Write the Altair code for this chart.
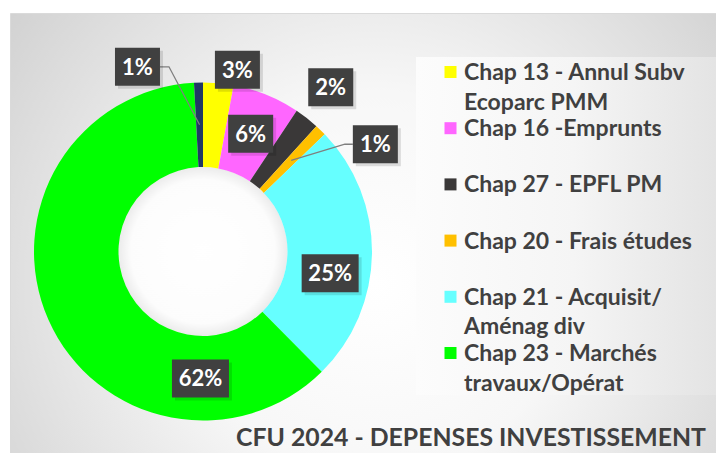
import altair as alt
import numpy as np
import pandas as pd

# ---------------- data ----------------
categories = [
    "Chap 13 - Annul Subv Ecoparc PMM",
    "Chap 16 -Emprunts",
    "Chap 27 - EPFL PM",
    "Chap 20 - Frais études",
    "Chap 21 - Acquisit/Aménag div",
    "Chap 23 - Marchés travaux/Opérat",
    "Autres",
]
legend_lines = [
    "Chap 13 - Annul Subv\nEcoparc PMM",
    "Chap 16 -Emprunts",
    "Chap 27 - EPFL PM",
    "Chap 20 - Frais études",
    "Chap 21 - Acquisit/\nAménag div",
    "Chap 23 - Marchés\ntravaux/Opérat",
    "",
]
shares = [2.9, 6.45, 2.35, 1.1, 24.8, 61.55, 0.85]   # percent of total
in_legend = [True, True, True, True, True, True, False]
colors = ["#FFFF00", "#FF66FF", "#3A3838", "#FFC000", "#66FFFF", "#00FF00", "#203864"]
title_text = "CFU 2024 - DEPENSES INVESTISSEMENT"

# ---------------- layout / style ----------------
W, H = 716, 453
CX, CY = 203, 251.5
R_OUT, R_IN = 169, 84.5
# data-label placement (as dragged in the original): angle shift from slice middle, radius
label_shift_deg = [5.5, 0, 0, 14, 9, -65, -18]
label_radius = [185, 127, 208, 203, 129, 127, 196]
has_leader = [False, False, False, True, False, False, True]
FONT = "Lato"
TXT = "#404040"

# ---------------- derived tables ----------------
s = np.array(shares, dtype=float)
ends = np.cumsum(s) / s.sum() * 360.0
starts = ends - s / s.sum() * 360.0
mids = (starts + ends) / 2

pie_df = pd.DataFrame({"category": categories, "share": shares, "ord": list(range(len(categories)))})

lab = pd.DataFrame({"category": categories})
lab["text"] = [f"{int(round(v))}%" for v in shares]
ang = np.radians(mids + np.array(label_shift_deg))
lab["lx"] = CX + np.array(label_radius) * np.sin(ang)
lab["ly"] = CY - np.array(label_radius) * np.cos(ang)
lab["w"] = [45 if len(t) <= 2 else 57 for t in lab["text"]]
lab["x1"] = lab["lx"] - lab["w"] / 2
lab["x2"] = lab["lx"] + lab["w"] / 2
lab["y1"] = lab["ly"] - 19
lab["y2"] = lab["ly"] + 19
lab["sx1"] = lab["x1"] + 3
lab["sx2"] = lab["x2"] + 3
lab["sy1"] = lab["y1"] + 3
lab["sy2"] = lab["y2"] + 3

rows = []
for i, c in enumerate(categories):
    if not has_leader[i]:
        continue
    a = np.radians(mids[i])
    x0, y0 = CX + (R_OUT + R_IN) / 2 * np.sin(a), CY - (R_OUT + R_IN) / 2 * np.cos(a)
    lx, ly, w = lab.loc[i, "lx"], lab.loc[i, "ly"], lab.loc[i, "w"]
    if lx < x0:
        edge = lx + w / 2
        elbow = edge + 9
    else:
        edge = lx - w / 2
        elbow = edge - 8
    rows += [(c, 0, x0, y0), (c, 1, elbow, ly), (c, 2, edge, ly)]
lead = pd.DataFrame(rows, columns=["category", "pt", "x", "y"])

leg = pd.DataFrame({"category": categories, "label": legend_lines, "show": in_legend})
leg = leg[leg["show"]].reset_index(drop=True)
leg["y"] = 72 + leg.index * 56.2

# ---------------- scales ----------------
xs = alt.Scale(domain=[0, W], range=[0, W])
ys = alt.Scale(domain=[0, H], range=[0, H])
cs = alt.Scale(domain=categories, range=colors)


def X(f):
    return alt.X(f, type="quantitative", scale=xs, axis=None)


def Y(f):
    return alt.Y(f, type="quantitative", scale=ys, axis=None)


one = pd.DataFrame({"k": [0]})

bg_fill = {
    "gradient": "radial",
    "x1": 0.5, "y1": 0.55, "r1": 0,
    "x2": 0.5, "y2": 0.55, "r2": 0.75,
    "stops": [
        {"offset": 0, "color": "#ffffff"},
        {"offset": 0.35, "color": "#f7f7f7"},
        {"offset": 0.7, "color": "#dcdcdc"},
        {"offset": 1, "color": "#c4c4c4"},
    ],
}
background = alt.Chart(one).mark_rect(fill=bg_fill, stroke="#dadada", strokeWidth=1).encode(
    x=alt.value(10.5), x2=alt.value(740), y=alt.value(13.5), y2=alt.value(480)
)

legend_fill = {
    "gradient": "linear",
    "x1": 0, "y1": 0, "x2": 1, "y2": 0,
    "stops": [
        {"offset": 0, "color": "#fcfcfc"},
        {"offset": 0.5, "color": "#f5f5f5"},
        {"offset": 1, "color": "#e2e2e2"},
    ],
}
legend_box = alt.Chart(one).mark_rect(fill=legend_fill).encode(
    x=alt.value(416), x2=alt.value(730), y=alt.value(57), y2=alt.value(395)
)

hole_fill = {
    "gradient": "radial",
    "x1": 0.5, "y1": 0.5, "r1": 0,
    "x2": 0.5, "y2": 0.5, "r2": 0.5,
    "stops": [
        {"offset": 0, "color": "#ffffff"},
        {"offset": 0.85, "color": "#fcfcfc"},
        {"offset": 1, "color": "#ebebeb"},
    ],
}
hole = alt.Chart(one).mark_arc(theta=0, theta2=2 * np.pi, outerRadius=R_IN, innerRadius=0, fill=hole_fill).encode(
    x=alt.value(CX), y=alt.value(CY)
)

donut = alt.Chart(pie_df).mark_arc(outerRadius=R_OUT, innerRadius=R_IN).encode(
    theta=alt.Theta("share:Q", stack=True),
    order=alt.Order("ord:Q"),
    color=alt.Color("category:N", scale=cs, legend=None),
    x=alt.value(CX),
    y=alt.value(CY),
)

leaders = alt.Chart(lead).mark_line(color="#7f7f7f", strokeWidth=1.3).encode(
    x=X("x"), y=Y("y"), detail="category:N", order="pt:Q"
)

shadows = alt.Chart(lab).mark_rect(color="#000000", opacity=0.12).encode(
    x=X("sx1"), x2="sx2", y=Y("sy1"), y2="sy2"
)
boxes = alt.Chart(lab).mark_rect(color="#404040").encode(
    x=X("x1"), x2="x2", y=Y("y1"), y2="y2"
)
box_text = alt.Chart(lab).mark_text(
    font=FONT, fontSize=22, fontWeight="bold", color="#ffffff", align="center", baseline="middle", dy=1
).encode(x=X("lx"), y=Y("ly"), text="text:N")

leg_sq = alt.Chart(leg).mark_square(size=144, opacity=1).encode(
    x=alt.value(450.5), y=Y("y"), color=alt.Color("category:N", scale=cs, legend=None)
)
leg_txt = alt.Chart(leg).mark_text(
    font=FONT, fontSize=23, fontWeight="bold", color=TXT, align="left", baseline="top",
    lineBreak="\n", lineHeight=29.5, dy=-10
).encode(x=alt.value(464), y=Y("y"), text="label:N")

title = alt.Chart(one).mark_text(
    font=FONT, fontSize=24.8, fontWeight="bold", color=TXT, align="left", baseline="middle"
).encode(x=alt.value(236), y=alt.value(439), text=alt.value(title_text))

chart = alt.layer(
    background, legend_box, hole, donut, leaders, shadows, boxes, box_text, leg_sq, leg_txt, title
).properties(
    width=W, height=H, padding=0, autosize=alt.AutoSizeParams(type="none"), background="#ffffff"
).configure_view(stroke=None)

chart.save("out.html", embed_options={"renderer": "svg", "actions": False})
